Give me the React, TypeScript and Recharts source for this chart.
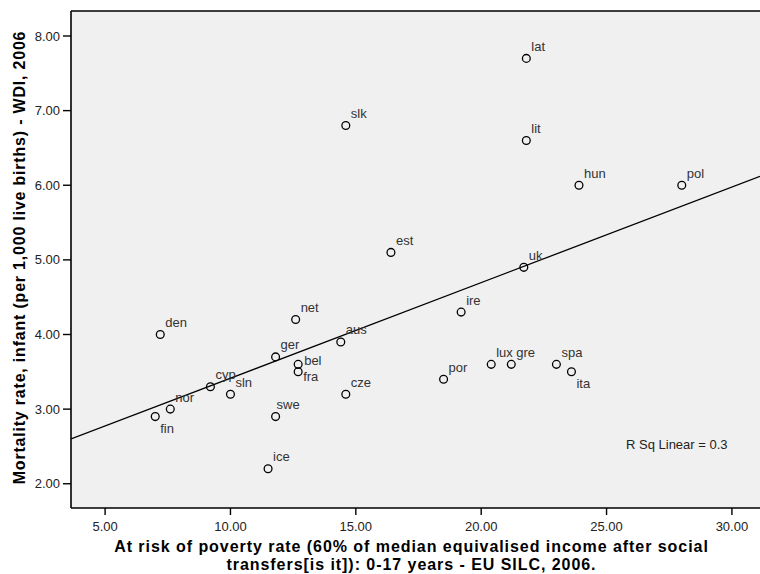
import React from "react";
import {
  ScatterChart,
  Scatter,
  XAxis,
  YAxis,
  CartesianGrid,
  ReferenceLine,
} from "recharts";

// ---- data ----
const countries = [
  "slk", "lat", "lit", "hun", "pol", "est", "uk", "den", "net", "aus",
  "ger", "bel", "fra", "cyp", "sln", "cze", "nor", "fin", "swe", "ice",
  "ire", "lux", "gre", "spa", "ita", "por",
];
const povertyRate = [
  14.6, 21.8, 21.8, 23.9, 28.0, 16.4, 21.7, 7.2, 12.6, 14.4,
  11.8, 12.7, 12.7, 9.2, 10.0, 14.6, 7.6, 7.0, 11.8, 11.5,
  19.2, 20.4, 21.2, 23.0, 23.6, 18.5,
];
const infantMortality = [
  6.8, 7.7, 6.6, 6.0, 6.0, 5.1, 4.9, 4.0, 4.2, 3.9,
  3.7, 3.6, 3.5, 3.3, 3.2, 3.2, 3.0, 2.9, 2.9, 2.2,
  4.3, 3.6, 3.6, 3.6, 3.5, 3.4,
];
// fitted linear regression line (endpoints at the plot edges)
const fitX = [3.64, 31.12];
const fitY = [2.6, 6.12];
const xTicks = [5, 10, 15, 20, 25, 30];
const yTicks = [2, 3, 4, 5, 6, 7, 8];
const xDomain = [3.64, 31.12];
const yDomain = [1.675, 8.335];
const rSqText = "R Sq Linear = 0.3";
const xTitle1 = "At risk of poverty rate (60% of median equivalised income after social";
const xTitle2 = "transfers[is it]): 0-17 years - EU SILC, 2006.";
const yTitle = "Mortality rate, infant (per 1,000 live births) - WDI, 2006";

const points = countries.map((name, i) => ({
  name,
  x: povertyRate[i],
  y: infantMortality[i],
}));
const fitLine = fitX.map((x, i) => ({ x, y: fitY[i] }));

const FONT = "'Liberation Sans', Arial, Helvetica, sans-serif";

// label placement style (offset of label from the marker)
const labelPlacement: Record<string, [number, number]> = {
  bel: [6, -4],
  fra: [5, 5],
  fin: [5, 12],
  ita: [5, 12],
  swe: [1, -12],
};

const PointShape = (props: any) => {
  const { cx, cy, payload } = props;
  if (cx == null || cy == null) return <g />;
  const off = labelPlacement[payload.name] ?? [5, -12];
  return (
    <g>
      <circle cx={cx} cy={cy} r={3.9} fill="none" stroke="#000" strokeWidth={1.3} />
      <text
        x={cx + off[0]}
        y={cy + off[1]}
        dominantBaseline="central"
        fontSize={13}
        fontFamily={FONT}
        fill="#333"
      >
        {payload.name}
      </text>
    </g>
  );
};

const NoShape = () => <g />;

const XTitle = (props: any) => {
  const vb = props.viewBox || {};
  const cx = (vb.x ?? 71) + (vb.width ?? 689) / 2 - 4;
  return (
    <text
      x={cx}
      y={552}
      textAnchor="middle"
      fontSize={16}
      fontWeight="bold"
      fontFamily={FONT}
      fill="#000"
      letterSpacing={0.95}
    >
      <tspan x={cx} dy={0}>{xTitle1}</tspan>
      <tspan x={cx} dy={17.5}>{xTitle2}</tspan>
    </text>
  );
};

const YTitle = (props: any) => {
  const vb = props.viewBox || {};
  const cy = (vb.y ?? 11) + (vb.height ?? 497) / 2 - 2;
  const x = 25;
  return (
    <text
      x={x}
      y={cy}
      transform={`rotate(-90, ${x}, ${cy})`}
      textAnchor="middle"
      fontSize={16}
      fontWeight="bold"
      fontFamily={FONT}
      fill="#000"
      letterSpacing={0.8}
    >
      {yTitle}
    </text>
  );
};

const fmt = (v: number) => v.toFixed(2);

export default function App() {
  return (
    <div style={{ position: "absolute", left: 0, top: 0, width: 760, height: 574, background: "#fff" }}>
      <ScatterChart
        width={760}
        height={574}
        margin={{ top: 11, right: 0, bottom: 0, left: 0 }}
      >
        <CartesianGrid fill="#f0f0f0" horizontal={false} vertical={false} />
        <XAxis
          type="number"
          dataKey="x"
          domain={xDomain}
          ticks={xTicks}
          allowDataOverflow
          tickFormatter={fmt}
          height={66}
          tickSize={7}
          tickMargin={7}
          axisLine={{ stroke: "#000", strokeWidth: 1.6 }}
          tickLine={{ stroke: "#000", strokeWidth: 1.4 }}
          tick={{ fontSize: 13, fill: "#222", fontFamily: FONT }}
          label={{ content: <XTitle /> } as any}
        />
        <YAxis
          type="number"
          dataKey="y"
          domain={yDomain}
          ticks={yTicks}
          allowDataOverflow
          tickFormatter={fmt}
          width={71}
          tickSize={8}
          tickMargin={3}
          axisLine={{ stroke: "#000", strokeWidth: 1.6 }}
          tickLine={{ stroke: "#000", strokeWidth: 1.4 }}
          tick={{ fontSize: 13, fill: "#222", fontFamily: FONT }}
          label={{ content: <YTitle /> } as any}
        />
        <ReferenceLine y={yDomain[1]} stroke="#000" strokeWidth={1.6} ifOverflow="visible" />
        <Scatter
          data={fitLine}
          line={{ stroke: "#000", strokeWidth: 1.3 }}
          shape={NoShape}
          isAnimationActive={false}
          legendType="none"
        />
        <Scatter
          data={points}
          shape={PointShape}
          isAnimationActive={false}
        />
      </ScatterChart>
      <div
        style={{
          position: "absolute",
          left: 626,
          top: 436,
          fontFamily: FONT,
          fontSize: 13,
          color: "#222",
          whiteSpace: "nowrap",
          lineHeight: "18px",
        }}
      >
        {rSqText}
      </div>
    </div>
  );
}
